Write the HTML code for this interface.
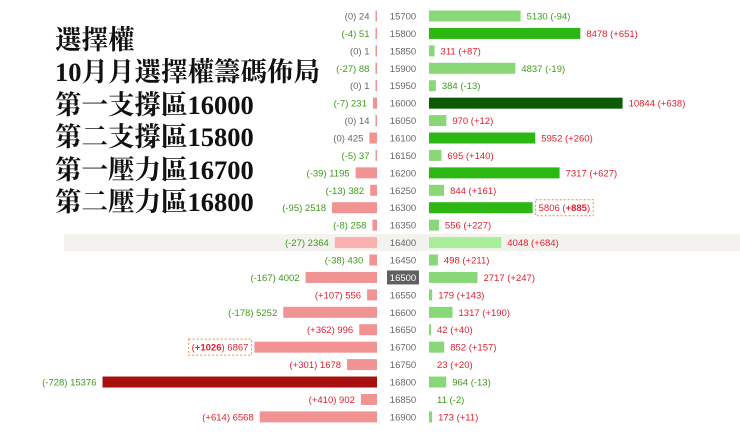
<!DOCTYPE html>
<html><head><meta charset="utf-8"><style>
html,body{margin:0;padding:0;background:#fff;width:740px;height:440px;overflow:hidden}
#title{position:absolute;left:55px;top:24px;font-family:"Liberation Serif","Noto Serif CJK SC",serif;font-weight:bold;font-size:26.5px;line-height:32.4px;color:#111}
svg{position:absolute;left:0;top:0}
</style></head><body>
<svg id="chart" width="740" height="440" font-family="Liberation Sans, DejaVu Sans, sans-serif" font-size="9.5"></svg>
<div id="title">選擇權<br>10月月選擇權籌碼佈局<br>第一支撐區16000<br>第二支撐區15800<br>第一壓力區16700<br>第二壓力區16800</div>
<script>
const strikes=[15700,15800,15850,15900,15950,16000,16050,16100,16150,16200,16250,16300,16350,16400,16450,16500,16550,16600,16650,16700,16750,16800,16850,16900];
const callOI=[24,51,1,88,1,231,14,425,37,1195,382,2518,258,2364,430,4002,556,5252,996,6867,1678,15376,902,6568];
const callChg=[0,-4,0,-27,0,-7,0,0,-5,-39,-13,-95,-8,-27,-38,-167,107,-178,362,1026,301,-728,410,614];
const putOI=[5130,8478,311,4837,384,10844,970,5952,695,7317,844,5806,556,4048,498,2717,179,1317,42,852,23,964,11,173];
const putChg=[-94,651,87,-19,-13,638,12,260,140,627,161,885,227,684,211,247,143,190,40,157,20,-13,-2,11];
</script>
<script>
const svg=document.getElementById('chart');
const NS='http://www.w3.org/2000/svg';
const y0=16,dy=17.43,bh=11,midL=377,midR=429,k=0.01785;
const yPos=r=>y0+r*dy;
const xs=v=>v*k;
function el(t,a,p){const e=document.createElementNS(NS,t);for(const n in a)e.setAttribute(n,a[n]);(p||svg).appendChild(e);return e;}
const maxC=Math.max(...callOI);
const maxP=Math.max(...putOI);
const cMaxChg=Math.max(...callChg);
const pMaxChg=Math.max(...putChg);
const chgColor=c=>c>0?'#e0202e':(c<0?'#3f9a1c':'#666');
const fmt=c=>c>0?'+'+c:String(c);
const hiRow=strikes.indexOf(16400), atm=strikes.indexOf(16500);
strikes.forEach((s,i)=>{
  const y=yPos(i);
  if(i===hiRow){
    const band=el('rect',{x:64,y:y-8.5,width:676,height:17,fill:'#f3f2ef'});
    
    
  }
  if(i===atm){
    const b=el('rect',{x:387,y:y-7,width:32,height:14,fill:'#606060'});
    
    
  }
  const st=el('text',{x:403,y:y+3.5,'text-anchor':'middle',fill:i===atm?'#fff':'#666'});
  st.textContent=s;
  
  
  // call
  const cw=xs(callOI[i]);
  const cf=callOI[i]===maxC?'#a80f0f':(i===hiRow?'#fbb0b0':'#f29393');
  const cb=el('rect',{x:midL-Math.max(cw,1.5),y:y-bh/2,width:Math.max(cw,1.5),height:bh,fill:cf});
  
  
  const ct=el('text',{x:midL-Math.max(cw,1.5)-6,y:y+3.5,'text-anchor':'end',fill:chgColor(callChg[i])});
  
  
  const isCMax=callChg[i]===cMaxChg;
  const t1=el('tspan',{},ct);t1.textContent='(';
  const t2=el('tspan',isCMax?{'font-weight':'bold'}:{},ct);t2.textContent=fmt(callChg[i]);
  const t3=el('tspan',{},ct);t3.textContent=') '+callOI[i];
  if(isCMax){
    const bb=ct.getBBox();const bx=el('rect',{x:bb.x-3,y:y-8,width:bb.width+6,height:16,fill:'none',stroke:'#f08a3c','stroke-dasharray':'2,2'});
    
    }
  // put
  const pw=xs(putOI[i]);
  const pf=putOI[i]===maxP?'#0b5a05':(i===hiRow?'#a8ee98':((putOI[i]>5000&&putChg[i]>0)?'#2db712':'#88d878'));
  if(putOI[i]>=40){
    const pb=el('rect',{x:midR,y:y-bh/2,width:Math.max(pw,2),height:bh,fill:pf});
    
    
  }
  const pt=el('text',{x:midR+Math.max(pw,2)+6,y:y+3.5,fill:chgColor(putChg[i])});
  
  
  const isPMax=putChg[i]===pMaxChg;
  const u1=el('tspan',{},pt);u1.textContent=putOI[i]+' (';
  const u2=el('tspan',isPMax?{'font-weight':'bold'}:{},pt);u2.textContent=fmt(putChg[i]);
  const u3=el('tspan',{},pt);u3.textContent=')';
  if(isPMax){
    const bb=pt.getBBox();const bx=el('rect',{x:bb.x-3,y:y-8,width:bb.width+6,height:16,fill:'none',stroke:'#f08a3c','stroke-dasharray':'2,2'});
    
    }
});
</script>
</body></html>
